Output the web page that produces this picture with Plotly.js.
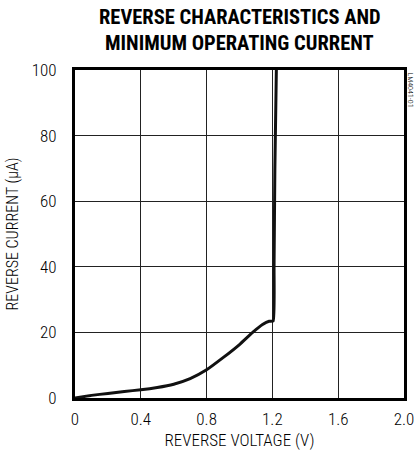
<!DOCTYPE html>
<html><head><meta charset="utf-8">
<script src="https://cdn.plot.ly/plotly-3.0.1.min.js"></script>
<style>html,body{margin:0;padding:0;background:#fff;}#chart{width:415px;height:457px;}</style>
</head><body><div id="chart"></div>
<script>
var voltage = [0, 0.1, 0.2, 0.3, 0.4, 0.5, 0.6, 0.7, 0.8, 0.9, 1.0, 1.08, 1.14, 1.18, 1.205, 1.21, 1.215, 1.224];
var current = [0, 0.8, 1.4, 2.0, 2.5, 3.2, 4.2, 5.9, 8.6, 12.3, 16.3, 20.0, 22.4, 23.4, 23.5, 40, 70, 100];
var xTicks = [0, 0.4, 0.8, 1.2, 1.6, 2.0];
var xTickLabels = ["0", "0.4", "0.8", "1.2", "1.6", "2.0"];
var yTicks = [0, 20, 40, 60, 80, 100];

var fontFam = '"Roboto Condensed", "Liberation Sans Narrow", sans-serif';

var trace = {x: voltage, y: current, mode: 'lines', line: {color: '#111', width: 3, shape: 'spline', smoothing: 0.4}, hoverinfo: 'none'};

var layout = {
  width: 415, height: 457,
  margin: {l: 75, r: 11, t: 70, b: 59},
  paper_bgcolor: '#fff', plot_bgcolor: '#fff',
  showlegend: false,
  xaxis: {range: [0, 2.0], tickvals: xTicks, ticktext: xTickLabels, showgrid: true, gridcolor: '#222', gridwidth: 1,
    zeroline: false, showline: true, linecolor: '#000', linewidth: 3, mirror: true, ticks: '', ticklabelstandoff: 4,
    ticklabeloverflow: 'allow',
    tickfont: {family: fontFam, size: 17, color: '#000', weight: 300},
    title: {text: 'REVERSE VOLTAGE (V)', font: {family: fontFam, size: 17, color: '#000', weight: 300}, standoff: 6}},
  yaxis: {range: [0, 100], tickvals: yTicks, showgrid: true, gridcolor: '#222', gridwidth: 1,
    zeroline: false, showline: true, linecolor: '#000', linewidth: 3, mirror: true, ticks: '', ticklabelstandoff: 12,
    ticklabeloverflow: 'allow',
    tickfont: {family: fontFam, size: 17, color: '#000', weight: 300},
    title: {text: 'REVERSE CURRENT (µA)', font: {family: fontFam, size: 16, color: '#000', weight: 300}, standoff: 10}},
  annotations: [
    {text: '<b>REVERSE CHARACTERISTICS AND</b>', xref: 'paper', yref: 'paper', x: 0.5, y: 1, yshift: 70 - 17, xanchor: 'center', yanchor: 'middle', showarrow: false, font: {family: fontFam, size: 20.5, color: '#000'}},
    {text: '<b>MINIMUM OPERATING CURRENT</b>', xref: 'paper', yref: 'paper', x: 0.5, y: 1, yshift: 70 - 43, xanchor: 'center', yanchor: 'middle', showarrow: false, font: {family: fontFam, size: 20.5, color: '#000'}},
    {text: 'LM4041-01', xref: 'paper', yref: 'paper', x: 1.0, y: 1.0, xanchor: 'center', yanchor: 'top', xshift: 6, textangle: 90, showarrow: false, font: {family: fontFam, size: 8, color: '#000', weight: 300}}
  ]
};
Plotly.newPlot('chart', [trace], layout, {staticPlot: true, displayModeBar: false});
</script></body></html>
